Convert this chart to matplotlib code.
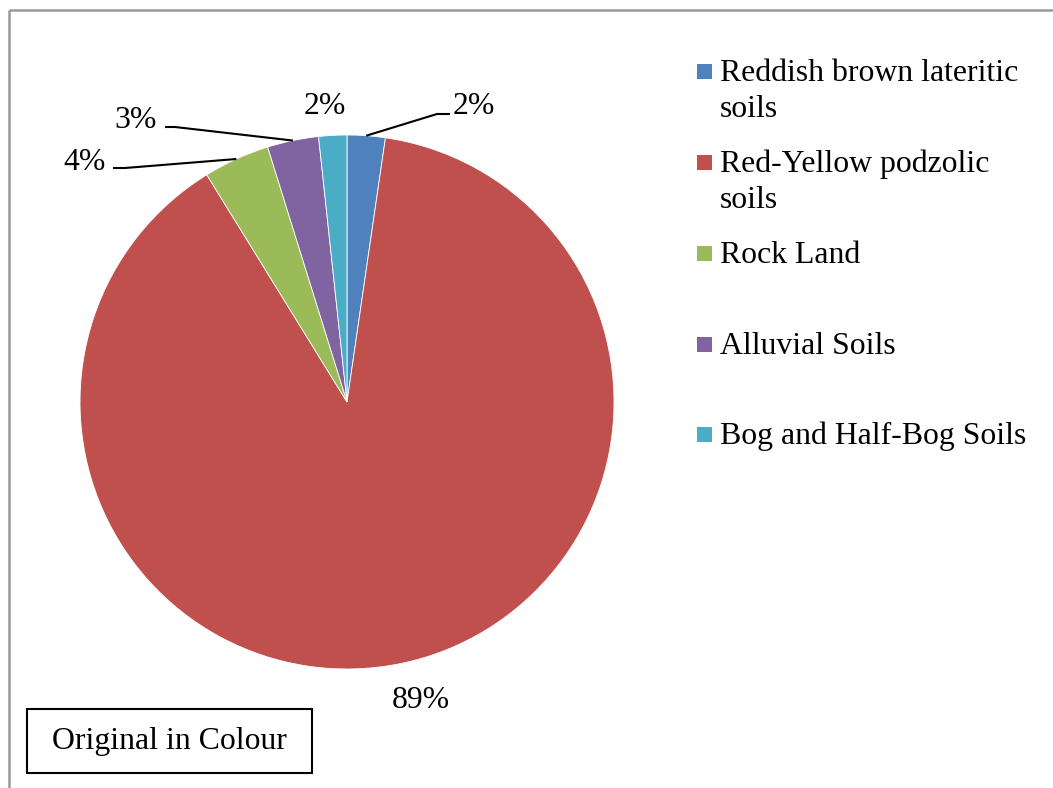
import matplotlib
matplotlib.use("Agg")
import matplotlib.pyplot as plt
from matplotlib.patches import Rectangle
import numpy as np

# soil groups, share of area (%)
soils = ["Reddish brown lateritic\nsoils", "Red-Yellow podzolic\nsoils", "Rock Land",
         "Alluvial Soils", "Bog and Half-Bog Soils"]
shares = [2.3, 88.9, 4.0, 3.1, 1.7]
colors = ["#4F81BD", "#C0504D", "#9BBB59", "#8064A2", "#4BACC6"]

W, H = 1053, 788
plt.rcParams["font.family"] = ["Liberation Serif", "DejaVu Serif"]
FS = 22.9

fig = plt.figure(figsize=(W / 100, H / 100), dpi=100)
ax = fig.add_axes([0, 0, 1, 1])

def Y(y):
    # pixel row (from top) -> data y
    return H - y

cx, cy, r = 347, Y(402), 267
wedges, _ = ax.pie(shares, colors=colors, startangle=90, counterclock=False,
                   center=(cx, cy), radius=r,
                   wedgeprops=dict(edgecolor="white", linewidth=0.6))
ax.set_xlim(0, W)
ax.set_ylim(0, H)
ax.set_aspect("equal")
ax.axis("off")

# data labels: text centre, optional leader elbow points
lab_pos = [(474, 106), (421, 700), (85, 162), (136, 120), (325, 106)]
leaders = [[(437, 114), (450, 114)], None, [(125, 168), (113, 168)],
           [(175, 127), (165, 127)], None]
for w, v, (tx, ty), ld in zip(wedges, shares, lab_pos, leaders):
    ax.text(tx, Y(ty), f"{v:.0f}%", fontsize=FS, ha="center", va="center")
    if ld:
        mid = np.deg2rad((w.theta1 + w.theta2) / 2)
        xs = [cx + r * np.cos(mid)] + [p[0] for p in ld]
        ys = [cy + r * np.sin(mid)] + [Y(p[1]) for p in ld]
        ax.plot(xs, ys, color="black", lw=1.5, solid_capstyle="butt")

# legend
rows = [71, 162, 253, 344, 434]
for lab, c, ry in zip(soils, colors, rows):
    ax.add_patch(Rectangle((697, Y(ry) - 7.5), 15, 15, facecolor=c, edgecolor="none"))
    for k, line in enumerate(lab.split("\n")):
        ax.text(720, Y(ry + 2 + 36 * k), line, fontsize=FS, ha="left", va="center")

# note box
ax.add_patch(Rectangle((27, Y(773)), 285, 64, facecolor="white",
                       edgecolor="black", lw=1.5))
ax.text(169.5, Y(742), "Original in Colour", fontsize=FS, ha="center", va="center")

# outer frame (top and left edges)
ax.plot([9, W], [Y(10), Y(10)], color="#9a9a9a", lw=1.8, solid_capstyle="butt")
ax.plot([9, 9], [Y(10), 0], color="#9a9a9a", lw=1.8, solid_capstyle="butt")

fig.savefig("out.png", dpi=100)
